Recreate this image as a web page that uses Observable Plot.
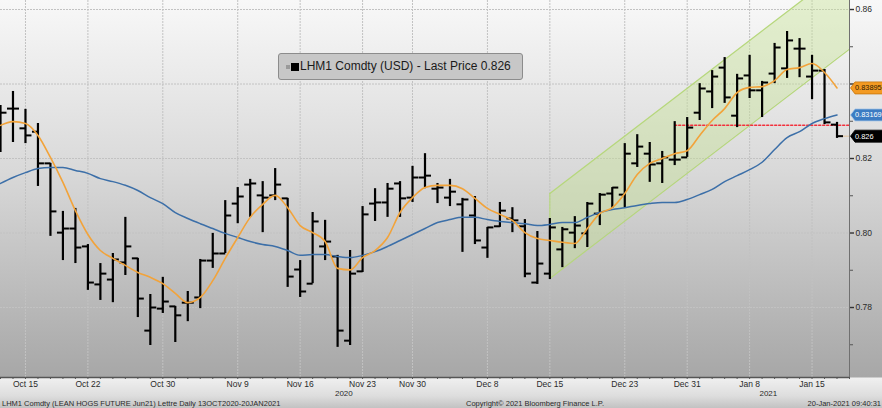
<!DOCTYPE html>
<html>
<head>
<meta charset="utf-8">
<script src="https://cdn.jsdelivr.net/npm/d3@7"></script>
<script src="https://cdn.jsdelivr.net/npm/@observablehq/plot@0.6"></script>
<style>
  body { margin: 0; }
  #wrap {
    position: relative; width: 882px; height: 408px; overflow: hidden;
    font-family: "Liberation Sans", Arial, sans-serif;
    background: linear-gradient(to bottom, #f8f8f8 0px, #d9d9d9 170px, #a7a7a7 377px, #f0f0f0 378px, #dddddd 396px, #c2c2c2 408px);
  }
  #chart svg { display: block; background: transparent; }
  #legend {
    position: absolute; left: 278px; top: 53px; width: 243px; height: 25px;
    background: #c7c7c7; border: 1px solid #8c8c8c; border-radius: 3px;
    font-size: 12px; color: #1a1a1a; line-height: 25px; white-space: nowrap;
  }
  #legend .g { position: absolute; left: 7px; top: 11px; width: 4px; height: 4px; background: #9a9a9a; }
  #legend .k { position: absolute; left: 12px; top: 9px; width: 8px; height: 8px; background: #000; }
  #legend .t { position: absolute; left: 21px; top: 0; }
  #caption { position: relative; height: 8px; font-size: 7.5px; line-height: 8px; color: #2a2a2a; }
  #caption span { position: absolute; top: 0; white-space: nowrap; }
</style>
</head>
<body>
<div id="wrap">
  <div id="chart"></div>
  <div id="caption">
    <span style="left:2px">LHM1 Comdty (LEAN HOGS FUTURE  Jun21) Lettre  Daily 13OCT2020-20JAN2021</span>
    <span style="left:466px">Copyright© 2021 Bloomberg Finance L.P.</span>
    <span style="right:1px">20-Jan-2021 09:40:31</span>
  </div>
  <div id="legend"><div class="g"></div><div class="k"></div><div class="t">LHM1 Comdty (USD)  - Last Price 0.826</div></div>
</div>
<script>
// ---- data (trading-day index 0 = 13 Oct 2020 ... 67 = 20 Jan 2021) ----
const open = [0.8329,0.8334,0.8281,0.8272,0.8187,0.8001,0.8012,0.7964,0.7862,0.7875,
  0.7921,0.7932,0.7738,0.7797,0.7803,0.7813,0.7827,0.7926,0.7945,0.8079,
  0.8130,0.8101,0.8101,0.8093,0.7902,0.7864,0.7964,0.7937,0.7711,0.7897,
  0.8079,0.8082,0.8133,0.8095,0.8149,0.8119,0.8095,0.8077,0.8047,0.7961,
  0.8018,0.8039,0.8018,0.7867,0.7891,0.7956,0.8001,0.7999,0.8052,0.8106,
  0.8103,0.8187,0.8213,0.8187,0.8197,0.8203,0.8323,0.8380,0.8444,0.8315,
  0.8423,0.8383,0.8428,0.8442,0.8495,0.8420,0.8436,0.8291];
const high = [0.8342,0.8380,0.8332,0.8294,0.8187,0.8058,0.8066,0.7969,0.7918,0.7945,
  0.8042,0.7932,0.7835,0.7881,0.7803,0.7843,0.7929,0.7999,0.8087,0.8122,
  0.8144,0.8138,0.8173,0.8093,0.7926,0.8055,0.8034,0.7940,0.7953,0.8071,
  0.8119,0.8133,0.8138,0.8179,0.8213,0.8133,0.8144,0.8093,0.8098,0.8015,
  0.8082,0.8068,0.8036,0.8004,0.8039,0.8015,0.8044,0.8082,0.8106,0.8122,
  0.8240,0.8264,0.8243,0.8219,0.8299,0.8310,0.8401,0.8436,0.8471,0.8426,
  0.8477,0.8407,0.8509,0.8541,0.8522,0.8477,0.8439,0.8297];
const low = [0.8216,0.8243,0.8240,0.8125,0.7991,0.7926,0.7918,0.7846,0.7819,0.7813,
  0.7886,0.7773,0.7698,0.7784,0.7706,0.7762,0.7797,0.7905,0.7945,0.8025,
  0.8042,0.8001,0.8087,0.7854,0.7827,0.7864,0.7926,0.7693,0.7698,0.7894,
  0.8031,0.8042,0.8042,0.8082,0.8119,0.8079,0.8071,0.7948,0.7969,0.7932,
  0.8015,0.8001,0.7880,0.7862,0.7875,0.7907,0.7958,0.7961,0.8020,0.8066,
  0.8068,0.8176,0.8136,0.8133,0.8181,0.8203,0.8302,0.8334,0.8348,0.8283,
  0.8361,0.8310,0.8401,0.8415,0.8417,0.8358,0.8291,0.8254];
const close = [0.8323,0.8334,0.8262,0.8187,0.8058,0.8012,0.7961,0.7867,0.7891,0.7929,
  0.7964,0.7824,0.7800,0.7816,0.7779,0.7813,0.7926,0.7945,0.8047,0.8098,
  0.8133,0.8095,0.8130,0.7883,0.7843,0.8031,0.7977,0.7738,0.7891,0.8050,
  0.8082,0.8119,0.8093,0.8149,0.8154,0.8122,0.8111,0.8090,0.7980,0.8015,
  0.8060,0.8034,0.7891,0.7918,0.8015,0.8010,0.8020,0.8079,0.8103,0.8122,
  0.8213,0.8232,0.8184,0.8203,0.8197,0.8283,0.8388,0.8420,0.8364,0.8415,
  0.8383,0.8404,0.8498,0.8517,0.8495,0.8436,0.8297,0.8260];
const maShort = [0.8289,0.8299,0.8294,0.8262,0.8203,0.8136,0.8060,0.7996,0.7953,0.7932,
  0.7913,0.7894,0.7881,0.7864,0.7838,0.7813,0.7827,0.7872,0.7932,0.7988,
  0.8042,0.8077,0.8101,0.8068,0.8020,0.8001,0.7977,0.7905,0.7901,0.7934,
  0.7953,0.7988,0.8055,0.8095,0.8122,0.8128,0.8128,0.8119,0.8093,0.8066,
  0.8050,0.8034,0.8001,0.7985,0.7980,0.7975,0.7972,0.8012,0.8052,0.8068,
  0.8106,0.8157,0.8187,0.8200,0.8213,0.8221,0.8262,0.8302,0.8334,0.8377,
  0.8391,0.8393,0.8409,0.8439,0.8444,0.8455,0.8431,0.83895];
const maLong = [0.8133,0.8149,0.8162,0.8173,0.8176,0.8176,0.8168,0.8160,0.8146,0.8138,
  0.8128,0.8114,0.8095,0.8079,0.8055,0.8039,0.8025,0.8012,0.7999,0.7988,
  0.7977,0.7969,0.7964,0.7953,0.7940,0.7942,0.7942,0.7937,0.7934,0.7940,
  0.7950,0.7964,0.7980,0.7996,0.8012,0.8028,0.8036,0.8042,0.8042,0.8036,
  0.8031,0.8028,0.8025,0.8020,0.8023,0.8028,0.8028,0.8042,0.8055,0.8063,
  0.8068,0.8074,0.8079,0.8082,0.8082,0.8090,0.8103,0.8117,0.8138,0.8154,
  0.8170,0.8190,0.8224,0.8256,0.8272,0.8294,0.8307,0.83169];
const tickIdx = [2, 7, 13, 19, 24, 29, 33, 39, 44, 50, 55, 60, 65];
const tickLabels = ["Oct 15","Oct 22","Oct 30","Nov 9","Nov 16","Nov 23","Nov 30","Dec 8","Dec 15","Dec 23","Dec 31","Jan 8","Jan 15"];
const yearPos = [27.5, 61.5];
const yearLabels = ["2020", "2021"];
const yTicks = [0.78, 0.80, 0.82, 0.84, 0.86];
const yLabelTicks = [0.78, 0.80, 0.82, 0.86];   // 0.84 label sits under the orange badge
const yMinor = [0.77, 0.79, 0.81, 0.83, 0.85];
const channelX = [44, 68];
const channelLo = [0.7878, 0.8494];
const channelHi = [0.8106, 0.8722];
const supportX = [54, 68];
const supportVal = 0.8289;
const lastPrice = 0.826;
const badgeVals = [0.83895, 0.83169, 0.826];
const badgeText = ["0.83895", "0.83169", "0.826"];

// ---- build tables ----
const n = open.length;
const bars = d3.range(n).map(i => ({i, o: open[i], h: high[i], l: low[i], c: close[i]}));
const ma1 = maShort.map((v, i) => ({i, v}));
const ma2 = maLong.map((v, i) => ({i, v}));
const channel = channelX.map((x, k) => ({x, lo: channelLo[k], hi: channelHi[k]}));
const support = supportX.map(x => ({x, v: supportVal}));
const lastLine = [{x: n - 1, v: lastPrice}, {x: 68, v: lastPrice}];
const years = yearPos.map((x, k) => ({x, t: yearLabels[k]}));
const tl = 0.48; // OHLC tick length in index units

const badge = {
  draw(ctx) {
    ctx.moveTo(1, 0); ctx.lineTo(5.5, -6); ctx.lineTo(45, -6);
    ctx.lineTo(45, 6); ctx.lineTo(5.5, 6); ctx.closePath();
  }
};
const badgeFill = ["#f39a22", "#3b7cc3", "#000000"];
const badgeStroke = ["#c8760c", "#a9c6e6", "#000000"];
const badgeInk = ["#2b1a05", "#ffffff", "#ffffff"];

const xDomain = [0, 68];
const yDomain = [0.76121, 0.86242];

const chart = Plot.plot({
  width: 882, height: 400,
  marginLeft: 0, marginRight: 33, marginTop: 0, marginBottom: 23,
  style: {background: "transparent", color: "#2a2a2a", fontFamily: "Liberation Sans, Arial, sans-serif", overflow: "visible"},
  x: {type: "linear", domain: xDomain},
  y: {domain: yDomain},
  marks: [
    Plot.ruleX(tickIdx, {stroke: "#c2c2c2", strokeWidth: 1, strokeDasharray: "2,1"}),
    Plot.ruleY(yTicks, {stroke: "#c2c2c2", strokeWidth: 1, strokeDasharray: "2,1"}),
    Plot.areaY(channel, {x: "x", y1: "lo", y2: "hi", fill: "#c6e394", fillOpacity: 0.42, clip: true}),
    Plot.line(channel, {x: "x", y: "lo", stroke: "#b6d77c", strokeWidth: 1.2, clip: true}),
    Plot.line(channel, {x: "x", y: "hi", stroke: "#b6d77c", strokeWidth: 1.2, clip: true}),
    Plot.ruleX([channelX[0]], {y1: channelLo[0], y2: channelHi[0], stroke: "#b6d77c", strokeWidth: 1}),
    Plot.line(support, {x: "x", y: "v", stroke: "#f2303c", strokeWidth: 1.5, strokeDasharray: "2,2"}),
    Plot.line(lastLine, {x: "x", y: "v", stroke: "#e2c49e", strokeWidth: 1}),
    Plot.ruleX(bars, {x: "i", y1: "l", y2: "h", stroke: "#000", strokeWidth: 2.2}),
    Plot.link(bars, {x1: d => d.i - tl, x2: "i", y1: "o", y2: "o", stroke: "#000", strokeWidth: 2}),
    Plot.link(bars, {x1: "i", x2: d => d.i + tl, y1: "c", y2: "c", stroke: "#000", strokeWidth: 2}),
    Plot.line(ma2, {x: "i", y: "v", stroke: "#3c6fa8", strokeWidth: 1.5, curve: "monotone-x"}),
    Plot.line(ma1, {x: "i", y: "v", stroke: "#f2a33a", strokeWidth: 1.6, curve: "monotone-x"}),
    Plot.ruleY([yDomain[0]], {stroke: "#555", strokeWidth: 1.5}),
    Plot.ruleX([xDomain[1]], {stroke: "#707070", strokeWidth: 1}),
    Plot.axisX({ticks: d3.range(n + 1), tickSize: 2, tickFormat: () => "", stroke: "#555"}),
    Plot.axisX({ticks: tickIdx, tickSize: 0, tickPadding: 3, fontSize: 8.5,
      tickFormat: d => tickLabels[tickIdx.indexOf(d)]}),
    Plot.text(years, {x: "x", text: "t", frameAnchor: "bottom", dy: 18, fontSize: 8}),
    Plot.axisY({anchor: "right", ticks: yMinor, tickSize: 3, tickFormat: () => "", stroke: "#555"}),
    Plot.axisY({anchor: "right", ticks: [0.84], tickSize: 4, tickFormat: () => "", stroke: "#333", strokeWidth: 1.4}),
    Plot.axisY({anchor: "right", ticks: yLabelTicks, tickSize: 4, tickPadding: 2, fontSize: 8.5,
      tickFormat: d3.format(".2f"), stroke: "#333", strokeWidth: 1.4}),
    ...badgeVals.map((v, k) => Plot.dot([v], {y: d => d, frameAnchor: "right", symbol: badge, r: 5,
      fill: badgeFill[k], stroke: badgeStroke[k], strokeWidth: 0.8})),
    ...badgeVals.map((v, k) => Plot.text([v], {y: d => d, frameAnchor: "right", dx: 5.5, textAnchor: "start",
      text: () => badgeText[k], fill: badgeInk[k], fontSize: 7.4}))
  ]
});
document.getElementById("chart").appendChild(chart);
</script>
</body>
</html>
